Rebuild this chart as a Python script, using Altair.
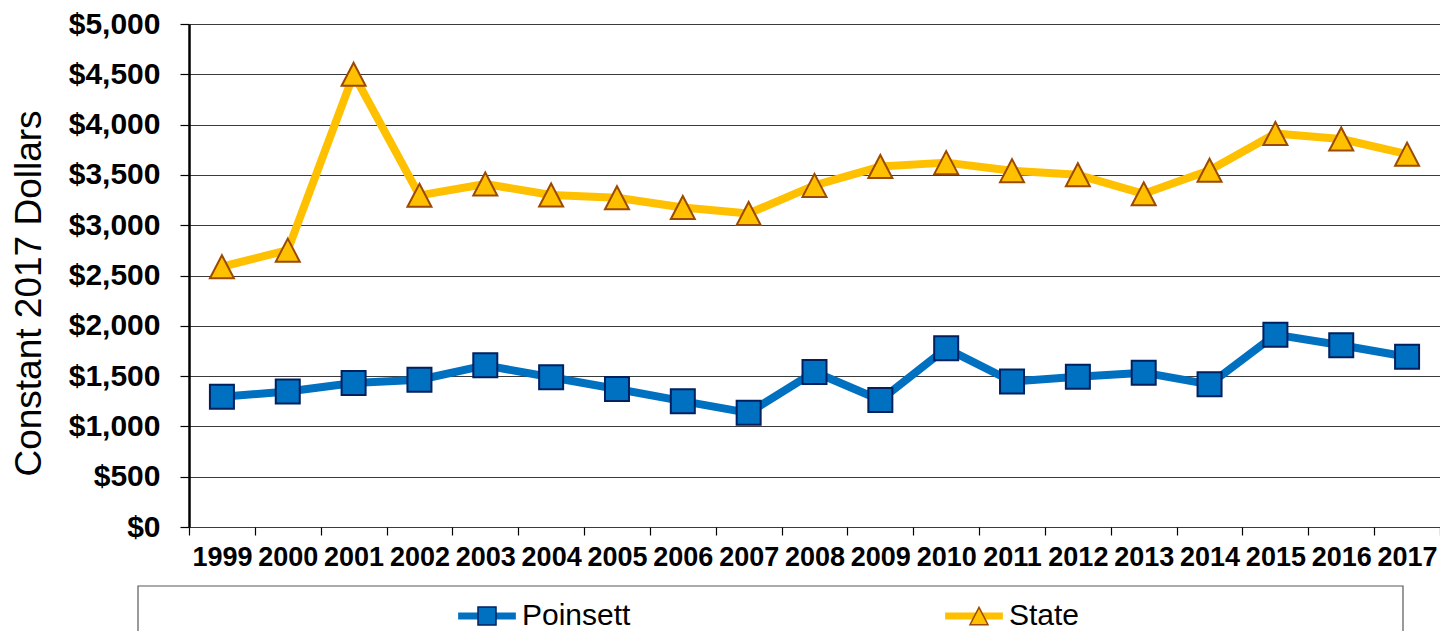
import altair as alt
import pandas as pd

years = [str(y) for y in range(1999, 2018)]
poinsett = [1294, 1347, 1431, 1464, 1607, 1488, 1372, 1251, 1135, 1541,
            1262, 1776, 1446, 1493, 1534, 1418, 1912, 1806, 1693]
state = [2587, 2752, 4500, 3297, 3410, 3300, 3273, 3176, 3116, 3396,
         3583, 3622, 3542, 3501, 3312, 3546, 3912, 3857, 3706]
series_names = ["Poinsett", "State"]
line_colors = ["#0070C0", "#FFC000"]
marker_edges = ["#002060", "#9C4A00"]
marker_shapes = ["M-0.75,-0.75L0.75,-0.75L0.75,0.75L-0.75,0.75Z",
                 "M0,-0.72L0.75,0.72L-0.75,0.72Z"]
y_ticks = list(range(0, 5001, 500))

rows = []
for name, vals in zip(series_names, [poinsett, state]):
    for yr, v in zip(years, vals):
        rows.append({"Year": yr, "Value": v, "Series": name, "Marker": name})
df = pd.DataFrame(rows)

FONT = "Liberation Sans"

x_enc = alt.X("Year:N", sort=years, bandPosition=0.5,
              scale=alt.Scale(type="band", domain=years, paddingInner=0, paddingOuter=0),
              axis=alt.Axis(title=None, tickBand="extent", tickSize=8, tickColor="#000000",
                            tickWidth=1.2, labelFont=FONT, labelFontSize=27,
                            labelFontWeight="bold", labelColor="#000000", labelPadding=9,
                            labelAngle=0, domain=False, grid=False))
y_enc = alt.Y("Value:Q",
              scale=alt.Scale(domain=[0, 5000], nice=False, zero=True),
              axis=alt.Axis(title="Constant 2017 Dollars", values=y_ticks, format="$,.0f",
                            labelFont=FONT, labelFontSize=30, labelFontWeight="bold",
                            labelColor="#000000", labelPadding=20, tickSize=9,
                            tickColor="#000000", tickWidth=1.2,
                            domain=True, domainColor="#000000", domainWidth=2.5,
                            grid=True, gridColor="#3a3a3a", gridWidth=1,
                            titleFont=FONT, titleFontSize=37, titleFontWeight="normal",
                            titleColor="#000000", titleAngle=-90, titleX=-160, titleY=269,
                            titleAlign="center", titleBaseline="middle"))


def marker_legend():
    return alt.Legend(title=None, orient="none", legendX=283, legendY=577,
                      direction="horizontal", columns=2, columnPadding=331,
                      padding=0, symbolSize=576, symbolStrokeWidth=1.5,
                      symbolOpacity=1, labelFont=FONT, labelFontSize=30,
                      labelColor="transparent", labelOffset=22)


lines = alt.Chart(df).mark_line(strokeWidth=8, strokeJoin="round").encode(
    x=x_enc, y=y_enc,
    color=alt.Color("Series:N", scale=alt.Scale(domain=series_names, range=line_colors),
                    legend=alt.Legend(title=None, orient="none", legendX=283, legendY=577,
                                      direction="horizontal", columns=2, columnPadding=300,
                                      padding=0, symbolType="M-3.3,0L3.3,0", symbolSize=306,
                                      symbolStrokeWidth=7, labelFont=FONT, labelFontSize=30,
                                      labelColor="#000000", labelOffset=20)),
)

points = alt.Chart(df).mark_point(size=1024, strokeWidth=2, opacity=1, filled=False).encode(
    x=x_enc, y=y_enc,
    shape=alt.Shape("Marker:N", scale=alt.Scale(domain=series_names, range=marker_shapes),
                    legend=marker_legend()),
    fill=alt.Fill("Marker:N", scale=alt.Scale(domain=series_names, range=line_colors),
                  legend=marker_legend()),
    stroke=alt.Stroke("Marker:N", scale=alt.Scale(domain=series_names, range=marker_edges),
                      legend=marker_legend()),
)

box = alt.Chart(pd.DataFrame({"k": [0]})).mark_rect(
    fill="white", stroke="#595959", strokeWidth=1.2).encode(
    x=alt.value(-51), x2=alt.value(1214), y=alt.value(562), y2=alt.value(640))

chart = alt.layer(box, lines, points).resolve_scale(
    color="independent", shape="independent", fill="independent", stroke="independent"
).properties(
    width=1251, height=503,
    autosize=alt.AutoSizeParams(type="none"),
    padding={"left": 181, "top": 16, "right": 0, "bottom": 104},
).configure_view(
    stroke="#808080", strokeWidth=2.5
).configure(background="white")

chart.save("out.html", embed_options={"renderer": "svg", "actions": False})
